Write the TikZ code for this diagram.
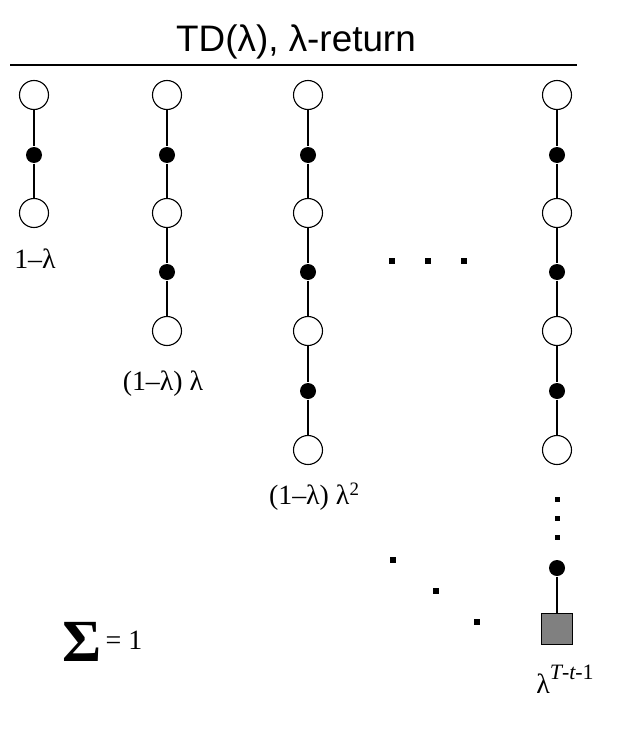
\documentclass[tikz,border=0pt]{standalone}
\usepackage{fontspec}
\setmainfont{Liberation Serif}
\newfontfamily\headfont{Liberation Sans}
\definecolor{termgray}{HTML}{808080}
\begin{document}
\begin{tikzpicture}[x=1bp,y=-1bp,line width=1.1bp,
  stnode/.style={draw, circle, fill=white, minimum size=29bp, inner sep=0pt},
  acnode/.style={circle, fill=black, minimum size=16bp, inner sep=0pt},
  endnode/.style={draw, fill=termgray, minimum size=31bp, inner sep=0pt},
  dotnode/.style={fill=black, minimum size=6bp, inner sep=0pt},
  lab/.style={font=\fontsize{28}{30}\selectfont, inner sep=0pt, anchor=base}]
\useasboundingbox (0,0) rectangle (618,745);

% heading and rule
\node[font=\headfont\fontsize{37}{40}\selectfont, inner sep=0pt, anchor=base] (title) at (296,52) {TD(λ), λ-return};
\coordinate (rl) at (10,65);
\coordinate (rr) at (577,65);
\draw (rl) -- (rr);

% 1-step backup
\node[stnode] (s11) at (34,95) {};
\node[acnode] (a11) at (34,155) {};
\node[stnode] (s12) at (34,213) {};
\draw (s11) -- (a11) -- (s12);
\node[lab] (w1) at (35,268) {1–λ};

% 2-step backup
\node[stnode] (s21) at (167,95) {};
\node[acnode] (a21) at (167,155) {};
\node[stnode] (s22) at (167,213) {};
\node[acnode] (a22) at (167,272) {};
\node[stnode] (s23) at (167,331) {};
\draw (s21) -- (a21) -- (s22) -- (a22) -- (s23);
\node[lab] (w2) at (163,390) {(1–λ) λ};

% 3-step backup
\node[stnode] (s31) at (308,95) {};
\node[acnode] (a31) at (308,155) {};
\node[stnode] (s32) at (308,213) {};
\node[acnode] (a32) at (308,272) {};
\node[stnode] (s33) at (308,331) {};
\node[acnode] (a33) at (308,391) {};
\node[stnode] (s34) at (308,450) {};
\draw (s31) -- (a31) -- (s32) -- (a32) -- (s33) -- (a33) -- (s34);
\node[lab] (w3) at (314,504) {(1–λ) λ\raisebox{9bp}{\fontsize{19}{19}\selectfont 2}};

% ellipsis between columns
\node[dotnode] (h1) at (392,261) {};
\node[dotnode] (h2) at (428,261) {};
\node[dotnode] (h3) at (464,261) {};

% full episode
\node[stnode] (s41) at (557,95) {};
\node[acnode] (a41) at (557,155) {};
\node[stnode] (s42) at (557,213) {};
\node[acnode] (a42) at (557,272) {};
\node[stnode] (s43) at (557,331) {};
\node[acnode] (a43) at (557,391) {};
\node[stnode] (s44) at (557,450) {};
\draw (s41) -- (a41) -- (s42) -- (a42) -- (s43) -- (a43) -- (s44);
\node[dotnode, minimum size=5bp] (v1) at (557,499) {};
\node[dotnode, minimum size=5bp] (v2) at (557,518) {};
\node[dotnode, minimum size=5bp] (v3) at (557,537) {};
\node[acnode] (a44) at (557,568) {};
\node[endnode] (e4) at (557,629) {};
\draw (a44) -- (e4);
\node[lab] (w4) at (565,693) {λ\raisebox{14bp}{\fontsize{22}{22}\selectfont\itshape T\upshape-\itshape t\upshape-1}};

% diagonal ellipsis
\node[dotnode] (g1) at (393,560) {};
\node[dotnode] (g2) at (436,591) {};
\node[dotnode] (g3) at (477,622) {};

% weights sum
\node[lab, anchor=base west] (sum) at (62,649) {\raisebox{-12bp}{\fontsize{60}{60}\selectfont\bfseries Σ}\hspace{4bp}= 1};
\end{tikzpicture}
\end{document}
